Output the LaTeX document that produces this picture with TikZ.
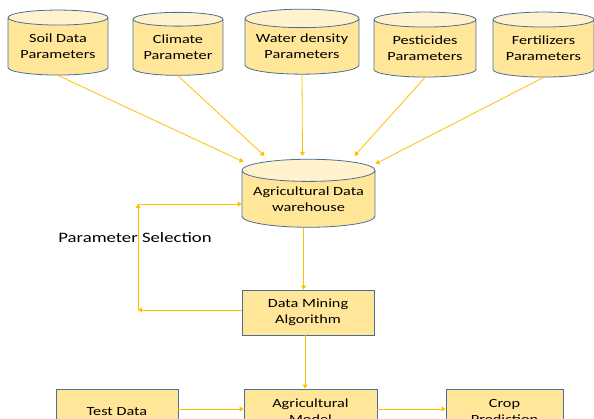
\documentclass[tikz,border=0pt]{standalone}
\usepackage{fontspec}
\setmainfont{Carlito}[FakeStretch=1.3]
\usetikzlibrary{shapes.geometric,arrows.meta,calc}

\definecolor{boxfill}{HTML}{FFE699}
\definecolor{capfill}{HTML}{FFF2CC}
\definecolor{boxline}{HTML}{4A6F96}
\definecolor{flow}{HTML}{FFC000}

\tikzset{
  store/.style={cylinder, shape border rotate=90, draw=boxline, line width=0.8pt,
    cylinder uses custom fill, cylinder body fill=boxfill, cylinder end fill=capfill,
    aspect=0.2, inner sep=0pt, align=center, font=\fontsize{12.5}{16}\selectfont},
  block/.style={rectangle, draw=boxline, line width=0.8pt, fill=boxfill,
    inner sep=0pt, align=center, font=\fontsize{12.5}{16}\selectfont},
  flowarrow/.style={draw=flow, line width=0.8pt, -{Triangle[width=5pt,length=4pt]}}
}

\begin{document}
\begin{tikzpicture}[x=1pt,y=-1pt]
    \useasboundingbox (0,0) rectangle (594,419);
    \clip (0,0) rectangle (594,419);

    % Parameter sources
    \node[store, minimum width=100pt, minimum height=65pt] (soil) at (58,46.5) {Soil Data\\Parameters};
    \node[store, minimum width=90pt, minimum height=63pt] (climate) at (178,47.5) {Climate\\Parameter};
    \node[store, minimum width=114pt, minimum height=65pt] (water) at (302,46.5) {Water density\\Parameters};
    \node[store, minimum width=102pt, minimum height=65pt] (pest) at (425,48.5) {Pesticides\\Parameters};
    \node[store, minimum width=101pt, minimum height=65pt] (fert) at (543.5,48.5) {Fertilizers\\Parameters};

    % Warehouse and processing
    \node[store, minimum width=133pt, minimum height=68pt] (wh) at (308.5,199) {Agricultural Data\\warehouse};
    \node[block, minimum width=132pt, minimum height=45pt] (dm) at (308,312.5) {Data Mining\\Algorithm};
    \node[block, minimum width=122pt, minimum height=45pt] (test) at (117,411.5) {Test Data};
    \node[block, minimum width=133pt, minimum height=45pt] (model) at (310.5,411.5) {Agricultural\\Model};
    \node[block, minimum width=117pt, minimum height=45pt] (crop) at (504.5,411.5) {Crop\\Prediction};

    \node[font=\fontsize{14.4}{16}\selectfont] (psel) at (135,237.5) {Parameter Selection};

    % Sources into warehouse
    \draw[flowarrow] (soil.south) -- ($(wh.north)+(-65,3)$);
    \draw[flowarrow] (climate.south) -- ($(wh.north)+(-44,-3)$);
    \draw[flowarrow] (water.south) -- ($(wh.north)+(-6,-3)$);
    \draw[flowarrow] (pest.south) -- ($(wh.north)+(46,-3)$);
    \draw[flowarrow] (fert.south) -- ($(wh.north)+(67,5)$);

    % Feedback loop
    \coordinate (fbL) at (138,310);
    \coordinate (fbT) at (138,204);
    \draw[flowarrow] (dm.west |- fbL) -- (fbL);
    \draw[flowarrow] (fbL) -- (fbT);
    \draw[flowarrow] (fbT) -- (wh.west |- fbT);

    % Main flow
    \draw[flowarrow] ([xshift=-5pt]wh.south) -- ([xshift=-5pt]wh.south |- dm.north);
    \draw[flowarrow] ([xshift=-3pt]dm.south) -- ([xshift=-3pt]dm.south |- model.north);
    \draw[flowarrow] ([yshift=2.5pt]test.east) -- ([yshift=2.5pt]model.west);
    \draw[flowarrow] ([yshift=2.5pt]model.east) -- ([yshift=2.5pt]crop.west);
\end{tikzpicture}
\end{document}
